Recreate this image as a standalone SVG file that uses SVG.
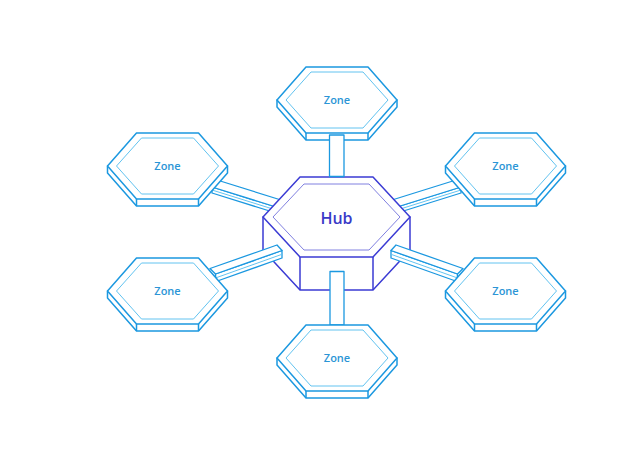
<svg xmlns="http://www.w3.org/2000/svg" xmlns:xlink="http://www.w3.org/1999/xlink" width="639" height="463" viewBox="0 0 639 463">
<style>
.zo{fill:#fff;stroke:#1b98e0;stroke-width:1.5;stroke-linejoin:round}
.zi{fill:none;stroke:#62c3f0;stroke-width:1}
.zt{font-family:"Open Sans","Liberation Sans",sans-serif;font-size:11px;font-weight:600;fill:#2b95d6;text-anchor:middle}
.ho{fill:#fff;stroke:#3b3bd4;stroke-width:1.5;stroke-linejoin:round}
.hi{fill:none;stroke:#8080e0;stroke-width:1}
.ht{font-family:"Open Sans","Liberation Sans",sans-serif;font-size:16px;font-weight:600;fill:#3a3ac8;text-anchor:middle}
.bo{fill:#fff;stroke:#1b98e0;stroke-width:1.3;stroke-linejoin:round}
.bl{fill:none;stroke:#62c3f0;stroke-width:1}
</style>
<defs>
<g id="zoneShape">
<path class="zo" d="M-60,0 L-60,7 L-31,40 L31,40 L60,7 L60,0 Z"/>
<path class="zo" d="M-31,33 L-31,40 M31,33 L31,40"/>
<polygon class="zo" points="-31,-33 31,-33 60,0 31,33 -31,33 -60,0"/>
<polygon class="zi" points="-26,-28 26,-28 51,0 26,28 -26,28 -51,0"/>
</g>
</defs>
<g id="connectors">
<g id="bar-lt">
<polygon class="bo" points="212,187 276,207 276,213 212,193"/>
<line class="bl" x1="212" y1="190" x2="276" y2="210"/>
<polygon class="bo" points="217,180 281,200 276,207 212,187"/>
</g>
<g id="bar-rt">
<polygon class="bo" points="461,187 397,207 397,213 461,193"/>
<line class="bl" x1="461" y1="190" x2="397" y2="210"/>
<polygon class="bo" points="456,180 392,200 397,207 461,187"/>
</g>
</g>
<g id="hub">
<path class="ho" d="M263,217 L263,250 L300,290 L373,290 L410,250 L410,217 Z"/>
<path class="ho" d="M300,257 L300,290 M373,257 L373,290"/>
<polygon class="ho" points="300,177 373,177 410,217 373,257 300,257 263,217"/>
<polygon class="hi" points="304,184 369,184 400,217 369,250 304,250 273,217"/>
<text class="ht" x="336.5" y="223.5">Hub</text>
</g>
<g id="connectors-front">
<g id="bar-lb">
<polygon class="bo" points="215.5,274 282,250.5 282,258 216,281.5"/>
<line class="bl" x1="216" y1="277.8" x2="282" y2="254.3"/>
<polygon class="bo" points="210,268.5 277,245 282,250.5 215.5,274"/>
</g>
<g id="bar-rb">
<polygon class="bo" points="457.5,274 391,250.5 391,258 457,281.5"/>
<line class="bl" x1="457" y1="277.8" x2="391" y2="254.3"/>
<polygon class="bo" points="463,268.5 396,245 391,250.5 457.5,274"/>
</g>
<rect id="bar-b" class="bo" x="330" y="271.5" width="14" height="53.5"/>
</g>
<g id="zone-t" transform="translate(337,100)"><use xlink:href="#zoneShape"/><text class="zt" x="0" y="4">Zone</text></g>
<g id="zone-b" transform="translate(337,358)"><use xlink:href="#zoneShape"/><text class="zt" x="0" y="4">Zone</text></g>
<g id="zone-lt" transform="translate(167.5,166)"><use xlink:href="#zoneShape"/><text class="zt" x="0" y="4">Zone</text></g>
<g id="zone-rt" transform="translate(505.5,166)"><use xlink:href="#zoneShape"/><text class="zt" x="0" y="4">Zone</text></g>
<g id="zone-lb" transform="translate(167.5,291)"><use xlink:href="#zoneShape"/><text class="zt" x="0" y="4">Zone</text></g>
<g id="zone-rb" transform="translate(505.5,291)"><use xlink:href="#zoneShape"/><text class="zt" x="0" y="4">Zone</text></g>
<rect id="bar-t" class="bo" x="329.5" y="135" width="14.5" height="41.5"/>
</svg>
